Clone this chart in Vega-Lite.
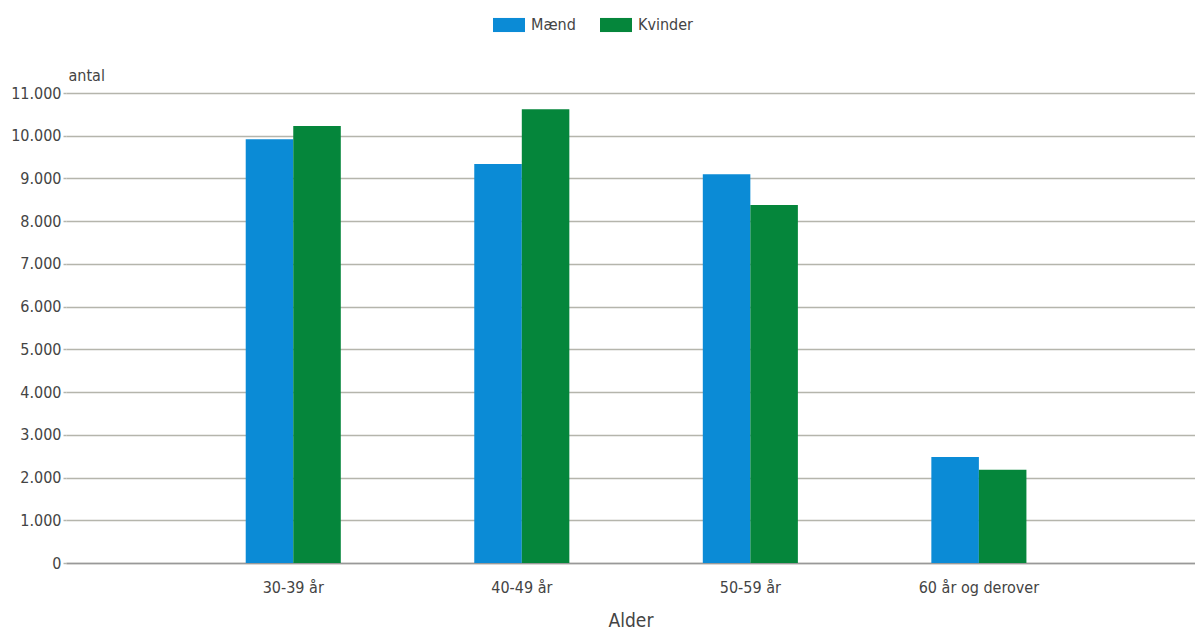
{
  "$schema": "https://vega.github.io/schema/vega-lite/v6.json",
  "width": 1129,
  "height": 470,
  "autosize": {"type": "none"},
  "padding": {"left": 66, "top": 93, "right": 0, "bottom": 69},
  "background": "white",
  "config": {
    "locale": {"number": {"decimal": ",", "thousands": ".", "grouping": [3], "currency": ["", " kr."]}},
    "view": {"stroke": null},
    "font": "DejaVu Sans Condensed, Liberation Sans Narrow, Liberation Sans, sans-serif"
  },
  "data": {
    "values": [
      {"alder": "30-39 år", "koen": "Mænd", "antal": 9920},
      {"alder": "30-39 år", "koen": "Kvinder", "antal": 10230},
      {"alder": "40-49 år", "koen": "Mænd", "antal": 9340},
      {"alder": "40-49 år", "koen": "Kvinder", "antal": 10620},
      {"alder": "50-59 år", "koen": "Mænd", "antal": 9100},
      {"alder": "50-59 år", "koen": "Kvinder", "antal": 8380},
      {"alder": "60 år og derover", "koen": "Mænd", "antal": 2480},
      {"alder": "60 år og derover", "koen": "Kvinder", "antal": 2180}
    ]
  },
  "mark": {"type": "bar"},
  "encoding": {
    "x": {
      "field": "alder",
      "type": "nominal",
      "sort": null,
      "scale": {"paddingInner": 0.584, "paddingOuter": 0.762, "align": 0.516},
      "axis": {
        "title": "Alder",
        "labelAngle": 0,
        "labelFontSize": 16,
        "labelColor": "#444444",
        "labelPadding": 16,
        "ticks": false,
        "domainColor": "#999999",
        "domainWidth": 1.5,
        "titleFontSize": 19,
        "titleFontWeight": "normal",
        "titleColor": "#444444",
        "titlePadding": 16
      }
    },
    "xOffset": {"field": "koen", "type": "nominal", "sort": ["Mænd", "Kvinder"], "scale": {"paddingInner": 0, "paddingOuter": 0}},
    "y": {
      "field": "antal",
      "type": "quantitative",
      "scale": {"domain": [0, 11000], "nice": false},
      "axis": {
        "values": [0, 1000, 2000, 3000, 4000, 5000, 6000, 7000, 8000, 9000, 10000, 11000],
        "format": ",d",
        "title": "antal",
        "titleAngle": 0,
        "titleAlign": "left",
        "titleBaseline": "bottom",
        "titleX": 2,
        "titleY": -10,
        "titleFontSize": 16,
        "titleFontWeight": "normal",
        "titleColor": "#444444",
        "labelFontSize": 16,
        "labelColor": "#444444",
        "labelPadding": 2,
        "domain": false,
        "tickColor": "#b5b5ac",
        "tickSize": 3,
        "tickWidth": 1.5,
        "gridColor": "#b5b5ac",
        "gridWidth": 1.5
      }
    },
    "color": {
      "field": "koen",
      "type": "nominal",
      "sort": ["Mænd", "Kvinder"],
      "scale": {"domain": ["Mænd", "Kvinder"], "range": ["#0b8bd6", "#05863b"]},
      "legend": {
        "title": null,
        "orient": "none",
        "direction": "horizontal",
        "legendX": 427,
        "legendY": -84,
        "symbolType": "M-1,-0.44H1V0.44H-1Z",
        "symbolSize": 1024,
        "symbolStrokeWidth": 0,
        "labelFontSize": 16,
        "labelColor": "#444444",
        "columnPadding": 24,
        "labelOffset": 6
      }
    }
  }
}
